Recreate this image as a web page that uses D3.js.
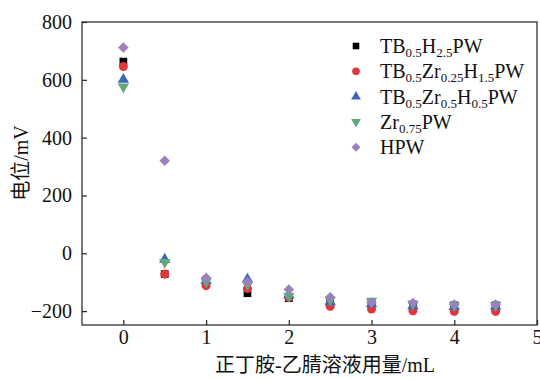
<!DOCTYPE html>
<html>
<head>
<meta charset="utf-8">
<script src="https://cdn.jsdelivr.net/npm/d3@7"></script>
<style>
  body { margin: 0; background: #fff; }
  svg text { font-family: "Liberation Serif", "Noto Sans CJK SC", serif; fill: #111; }
</style>
</head>
<body>
<div id="chart"></div>
<script>
// volume of n-butylamine / acetonitrile solution (mL)
const volumes = [0, 0.5, 1, 1.5, 2, 2.5, 3, 3.5, 4, 4.5];

// potential (mV), one array per sample
const tbH = [663, -72, -102, -138, -155, -165, -172, -178, -180, -180];
const tbZr025 = [646, -72, -112, -122, -153, -183, -193, -199, -201, -201];
const tbZr05 = [601, -21, -95, -90, -145, -168, -175, -182, -185, -184];
const zr075 = [576, -31, -98, -108, -148, -162, -165, -175, -180, -180];
const hpw = [712, 320, -85, -99, -125, -152, -170, -172, -177, -177];

const xTicks = [0, 1, 2, 3, 4, 5];
const yTicks = [-200, 0, 200, 400, 600, 800];

// legend names as [text, isSubscript] pieces
const series = [
    { name: [["TB", 0], ["0.5", 1], ["H", 0], ["2.5", 1], ["PW", 0]], values: tbH, color: "#000000", shape: "square" },
    { name: [["TB", 0], ["0.5", 1], ["Zr", 0], ["0.25", 1], ["H", 0], ["1.5", 1], ["PW", 0]], values: tbZr025, color: "#e0373f", shape: "circle" },
    { name: [["TB", 0], ["0.5", 1], ["Zr", 0], ["0.5", 1], ["H", 0], ["0.5", 1], ["PW", 0]], values: tbZr05, color: "#3d66b8", shape: "up" },
    { name: [["Zr", 0], ["0.75", 1], ["PW", 0]], values: zr075, color: "#62a87b", shape: "down" },
    { name: [["HPW", 0]], values: hpw, color: "#9b82bb", shape: "diamond" }
];

const width = 540, height = 379;
const margin = { top: 22, right: 3, bottom: 54, left: 82 };

const svg = d3.select("#chart").append("svg")
    .attr("width", width)
    .attr("height", height);

const x = d3.scaleLinear().domain([-0.5, 5]).range([margin.left, width - margin.right]);
const y = d3.scaleLinear().domain([-248, 800]).range([height - margin.bottom, margin.top]);

// marker shapes
function marker(shape) {
    if (shape === "square") return { d: d3.symbol(d3.symbolSquare, 60)(), rot: 0 };
    if (shape === "circle") return { d: d3.symbol(d3.symbolCircle, 64)(), rot: 0 };
    if (shape === "up") return { d: d3.symbol(d3.symbolTriangle, 56)(), rot: 0 };
    if (shape === "down") return { d: d3.symbol(d3.symbolTriangle, 56)(), rot: 180 };
    return { d: d3.symbol(d3.symbolSquare, 56)(), rot: 45 };
}

// frame
svg.append("rect")
    .attr("x", x(-0.5)).attr("y", y(800))
    .attr("width", x(5) - x(-0.5)).attr("height", y(-248) - y(800))
    .attr("fill", "none").attr("stroke", "#222").attr("stroke-width", 1.2);

// axes, ticks inward
const xAxis = svg.append("g")
    .attr("transform", `translate(0,${y(-248)})`)
    .call(d3.axisBottom(x).tickValues(xTicks).tickSizeInner(-5).tickSizeOuter(0).tickPadding(5)
        .tickFormat(d3.format("d")));
const yAxis = svg.append("g")
    .attr("transform", `translate(${x(-0.5)},0)`)
    .call(d3.axisLeft(y).tickValues(yTicks).tickSizeInner(-5).tickSizeOuter(0).tickPadding(10)
        .tickFormat(d => d < 0 ? "\u2212" + Math.abs(d) : d));

[xAxis, yAxis].forEach(g => {
    g.select(".domain").remove();
    g.selectAll(".tick line").attr("stroke", "#222").attr("stroke-width", 1.2);
    g.selectAll(".tick text").style("font-size", "20px").attr("fill", "#111");
});

// axis titles
svg.append("text")
    .attr("x", 325).attr("y", 372)
    .attr("text-anchor", "middle")
    .style("font-size", "20px")
    .text("正丁胺-乙腈溶液用量/mL");

svg.append("text")
    .attr("transform", "translate(28,163) rotate(-90)")
    .attr("text-anchor", "middle")
    .style("font-size", "20px")
    .text("电位/mV");

// data points
series.forEach(s => {
    const m = marker(s.shape);
    svg.append("g").selectAll("path")
        .data(volumes.map((v, i) => [v, s.values[i]]))
        .join("path")
        .attr("d", m.d)
        .attr("fill", s.color)
        .attr("transform", d => `translate(${x(d[0])},${y(d[1])}) rotate(${m.rot})`);
});

// legend
const legend = svg.append("g").attr("transform", "translate(356,46)");
series.forEach((s, i) => {
    const m = marker(s.shape);
    const row = legend.append("g").attr("transform", `translate(0,${i * 25.3})`);
    row.append("path")
        .attr("d", m.d)
        .attr("fill", s.color)
        .attr("transform", `rotate(${m.rot}) scale(0.85)`);
    const t = row.append("text")
        .attr("x", 24).attr("y", 7)
        .style("font-size", "20px");
    s.name.forEach(([str, sub]) => {
        const ts = t.append("tspan").text(str);
        if (sub) ts.style("font-size", "13px").attr("baseline-shift", "-4");
    });
});
</script>
</body>
</html>
